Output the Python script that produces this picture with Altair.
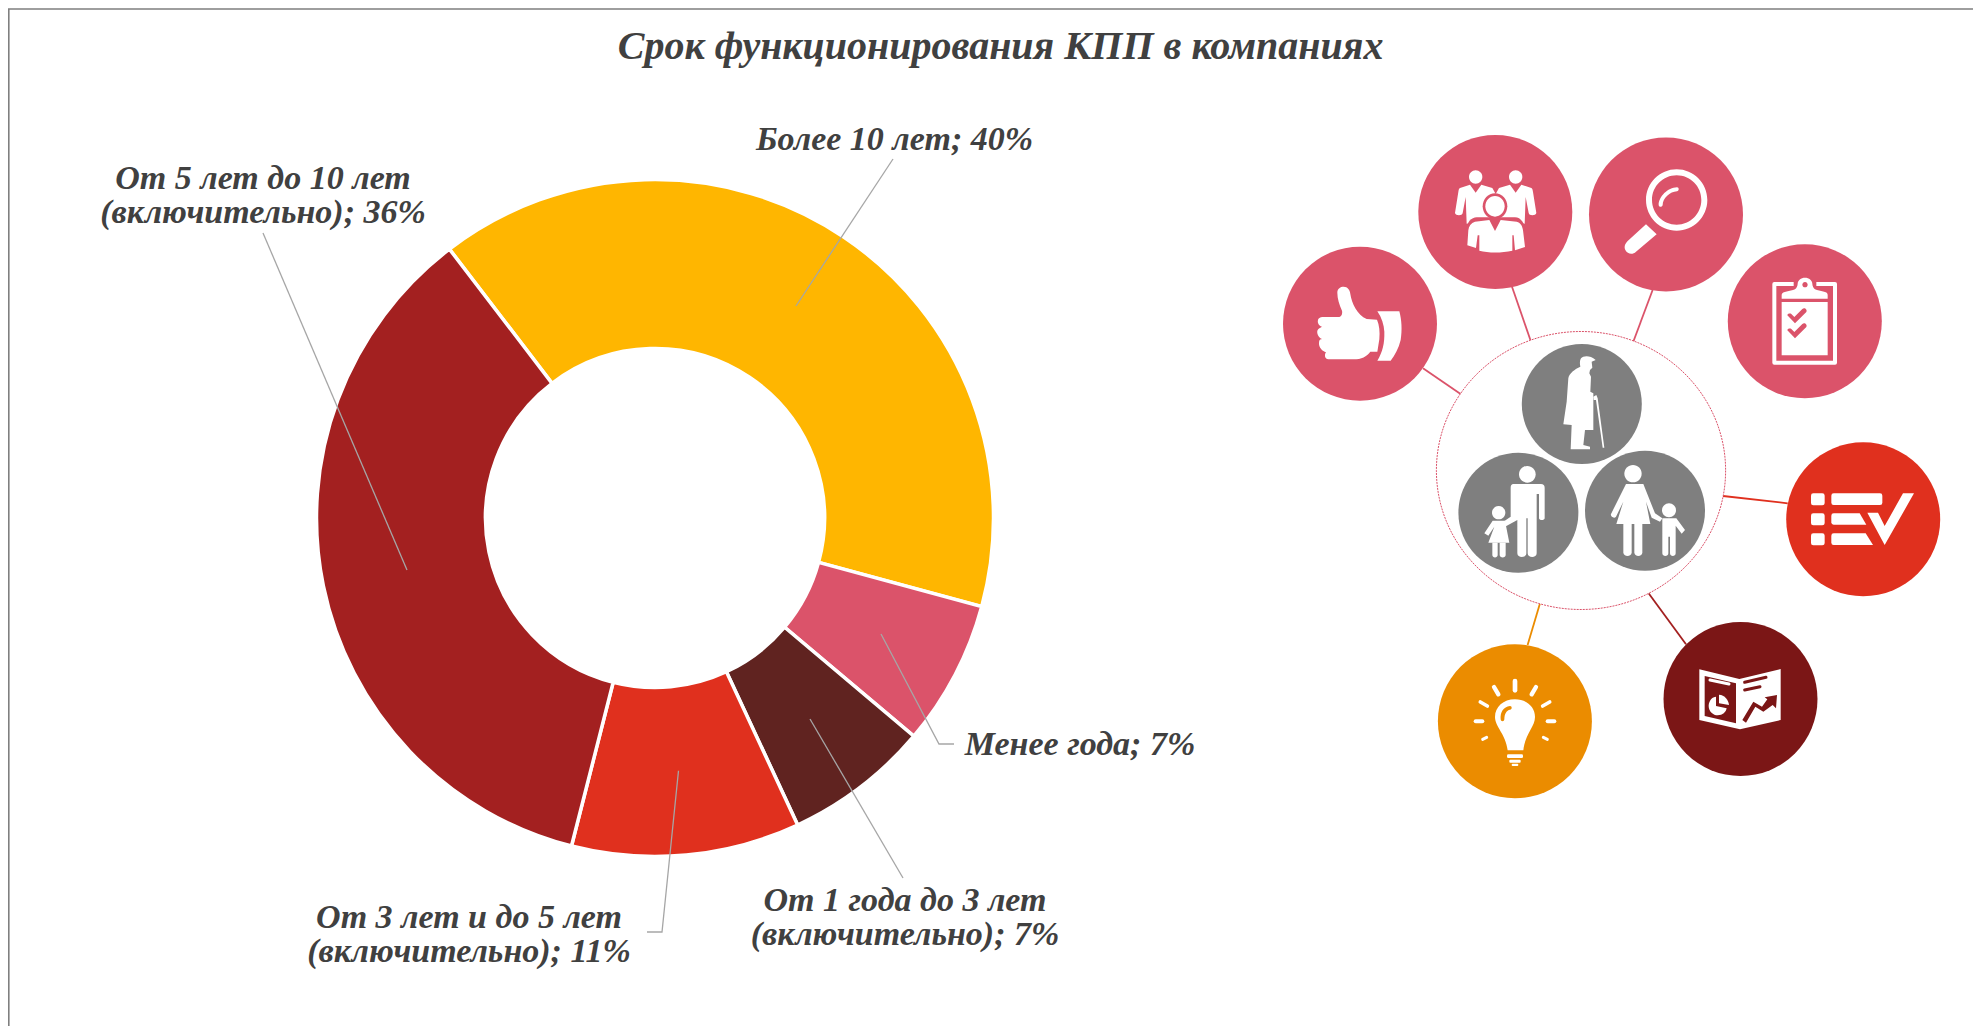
import math
import altair as alt
import pandas as pd

TITLE = "Срок функционирования КПП в компаниях"
CATEGORIES = ["Более 10 лет", "Менее года", "От 1 года до 3 лет", "От 3 лет и до 5 лет", "От 5 лет до 10 лет"]
VALUES = [40, 7, 7, 11, 36]
COLORS = ["#FFB600", "#DB536A", "#602320", "#E0301E", "#A32020"]
LABELS = [
    ("Более 10 лет; 40%", 894.5, 140),
    ("От 5 лет до 10 лет\n(включительно); 36%", 263, 178.5),
    ("Менее года; 7%", 1080, 745),
    ("От 1 года до 3 лет\n(включительно); 7%", 905, 900.5),
    ("От 3 лет и до 5 лет\n(включительно); 11%", 469, 918),
]
LEADERS = [
    [(893, 159), (796, 306)],
    [(263, 233), (407, 570)],
    [(881, 634), (939, 744), (954, 744)],
    [(903, 878), (810, 719)],
    [(678.5, 770.7), (662, 932), (647, 932)],
]
PINK, RED, DARK, ORANGE, GRAY = "#DB536A", "#E0301E", "#7B1616", "#EB8C00", "#7F7F7F"
WHITE = "#FFFFFF"
BIG = [(1360, 323.7, PINK), (1495.3, 212, PINK), (1666, 214.5, PINK), (1804.8, 321.3, PINK),
       (1863.2, 519.3, RED), (1740.5, 699, DARK), (1514.9, 721.3, ORANGE)]
SMALL = [(1581.8, 404, GRAY), (1518.4, 512.7, GRAY), (1645, 510.8, GRAY)]
CONNECTORS = [
    (1423, 368.3, 1460.6, 394, PINK), (1512, 286.7, 1530.4, 340, PINK), (1652.6, 290, 1633.3, 341.7, PINK),
    (1723, 496, 1787.7, 503.3, RED), (1648.6, 593.3, 1686, 644.3, "#A32020"), (1539.8, 604, 1527.6, 645, ORANGE),
]
HUB = (1581, 470.5, 144.6, 139)


def ell(cx, cy, rx, ry, rev=False):
    k = 0.5523
    a, b = rx * k, ry * k * (-1 if rev else 1)
    s = -1 if rev else 1
    return (f"M{cx+rx},{cy} C{cx+rx},{cy+b} {cx+a},{cy+s*ry} {cx},{cy+s*ry} "
            f"C{cx-a},{cy+s*ry} {cx-rx},{cy+b} {cx-rx},{cy} "
            f"C{cx-rx},{cy-b} {cx-a},{cy-s*ry} {cx},{cy-s*ry} "
            f"C{cx+a},{cy-s*ry} {cx+rx},{cy-b} {cx+rx},{cy} Z")


def cap(x1, y1, x2, y2, w):
    d = math.hypot(x2 - x1, y2 - y1)
    nx, ny = -(y2 - y1) / d * w / 2, (x2 - x1) / d * w / 2
    ex, ey = (x2 - x1) / d * w / 2, (y2 - y1) / d * w / 2
    return (f"M{x1+nx},{y1+ny} L{x2+nx},{y2+ny} Q{x2+nx+ex},{y2+ny+ey} {x2+ex},{y2+ey} "
            f"Q{x2-nx+ex},{y2-ny+ey} {x2-nx},{y2-ny} L{x1-nx},{y1-ny} "
            f"Q{x1-nx-ex},{y1-ny-ey} {x1-ex},{y1-ey} Q{x1+nx-ex},{y1+ny-ey} {x1+nx},{y1+ny} Z")


def rect(x1, y1, x2, y2):
    return f"M{x1},{y1} L{x2},{y1} L{x2},{y2} L{x1},{y2} Z"


def rrect(x1, y1, x2, y2, r):
    return (f"M{x1+r},{y1} L{x2-r},{y1} Q{x2},{y1} {x2},{y1+r} L{x2},{y2-r} Q{x2},{y2} {x2-r},{y2} "
            f"L{x1+r},{y2} Q{x1},{y2} {x1},{y2-r} L{x1},{y1+r} Q{x1},{y1} {x1+r},{y1} Z")


CHECK = "M127,{a} C127,{b} 135,{c} 139,{d} L148,{e} L172,{f} C178,{g} 188,{h} 184,{i} L150,{j} Z"


def check(o):
    return CHECK.format(a=160+o, b=155+o, c=153+o, d=156+o, e=165+o, f=141+o, g=135+o, h=142+o, i=150+o, j=184+o)


ICONS = [
    (1300, 260, [
        ("M112,98 C112,85 122,80 131,80 C143,80 150,90 151,102 C155,130 172,165 200,177 L231,179 C238,195 240,215 238,238 L232,275 L211,275 C200,290 185,298 160,298 L85,298 C75,298 72,285 78,277 C68,275 56,262 57,250 C57,240 60,238 66,237 C57,233 50,222 52,212 C54,204 62,203 66,200 C55,197 52,187 54,180 C56,172 64,171 72,171 L115,171 C125,171 128,160 126,152 C118,135 112,115 112,98 Z", WHITE),
        ("M232,154 L298,154 C305,180 307,210 302,240 C296,265 285,285 272,302 L232,302 C248,275 254,250 253,215 C252,195 245,172 232,154 Z", WHITE),
    ]),
    (1435, 152, [
        (ell(122, 75, 20, 20), WHITE), (ell(242, 75, 20, 20), WHITE),
        ("M75,108 L105,98 L122,122 L139,98 L172,108 L190,140 L190,200 L95,215 L92,135 L83,183 C82,192 62,192 60,183 L70,120 C71,113 72,110 75,108 Z", WHITE),
        ("M289,108 L259,98 L242,122 L225,98 L192,108 L174,140 L174,200 L269,215 L272,135 L281,183 C282,192 302,192 304,183 L294,120 C293,113 292,110 289,108 Z", WHITE),
        (ell(180, 163, 37, 39), PINK),
        ("M92,240 C94,210 110,196 125,196 L240,196 C258,196 270,215 272,240 L272,300 L92,300 Z", PINK),
        (ell(180, 163, 29, 31), WHITE),
        ("M120,209 L163,204 L180,237 L197,204 L245,209 C258,213 262,222 264,235 L270,285 L240,295 L236,250 L232,250 L232,296 C200,303 160,303 133,296 L133,250 L128,250 L123,288 L97,280 L100,235 C101,222 108,213 120,209 Z", WHITE),
    ]),
    (1606, 155, [
        (ell(212, 135, 92, 92) + " " + ell(212, 135, 74, 74, True), WHITE),
        ("M158,150 C158,125 185,98 213,97 C220,97 220,108 213,109 C192,110 170,130 170,150 C169,157 158,157 158,150 Z", WHITE),
        ("M120,208 L152,238 L90,290 C80,300 65,298 58,285 C53,275 58,265 65,258 Z", WHITE),
    ]),
    (1745, 262, [
        (rrect(82, 60, 276, 308, 6), WHITE),
        (rect(94, 72, 264, 296), PINK),
        (rect(110, 120, 248, 280), WHITE),
        ("M146,72 L214,72 L214,60 L146,60 Z", PINK),
        ("M110,110 L110,98 C112,88 135,88 150,82 C155,78 158,70 158,65 C158,55 168,47 180,47 C192,47 202,55 202,65 C202,70 205,78 210,82 C225,88 248,88 248,98 L248,110 Z", WHITE),
        (ell(180, 68, 8, 8), PINK),
        (check(0), PINK), (check(45), PINK),
    ]),
    (1803, 460, [
        (rrect(24, 100, 65, 136, 7), WHITE), (rrect(24, 160, 65, 196, 7), WHITE), (rrect(24, 220, 65, 256, 7), WHITE),
        (rrect(85, 100, 238, 135, 7), WHITE),
        ("M92,160 L170,160 L190,194 L92,194 Q85,194 85,187 L85,167 Q85,160 92,160 Z", WHITE),
        ("M92,220 L188,220 L210,255 L92,255 Q85,255 85,248 L85,227 Q85,220 92,220 Z", WHITE),
        ("M193,158 L225,158 L245,198 L300,100 L333,100 L245,255 Z", WHITE),
    ]),
    (1680, 640, [
        ("M58,88 L178,117 L302,87 L302,240 L180,268 L58,240 Z", WHITE),
        ("M74,108 L168,130 L168,250 L74,228 Z", DARK),
        (cap(90, 120, 147, 132, 9), WHITE),
        ("M108,170 C90,172 86,190 86,198 C86,215 100,226 113,226 C128,226 138,216 140,205 L108,198 Z", WHITE),
        ("M117,164 C134,165 146,180 147,195 L117,190 Z", WHITE),
        (cap(194, 127, 258, 112, 9), DARK),
        (cap(194, 150, 240, 140, 9), DARK),
        ("M187,240 L220,185 L246,200 L262,178 L254,172 L291,165 L288,205 L278,195 L250,215 L226,200 L198,248 Z", DARK),
    ]),
    (1455, 662, [
        ("M180,112 C215,112 240,135 240,165 C240,195 210,215 205,265 L158,265 C152,215 120,195 120,165 C120,135 145,112 180,112 Z", WHITE),
        ("M137,172 C135,150 145,135 165,132 C172,132 172,143 165,143 C155,145 148,155 148,172 C148,180 137,180 137,172 Z", ORANGE),
        (rrect(156, 277, 204, 288, 4), WHITE), (rrect(163, 293, 197, 302, 3), WHITE), (rrect(170, 305, 190, 312, 3), WHITE),
        (cap(180, 57, 180, 85, 14), WHITE), (cap(117, 75, 130, 97, 13), WHITE), (cap(243, 75, 230, 97, 13), WHITE),
        (cap(76, 120, 97, 132, 11), WHITE), (cap(284, 120, 263, 132, 11), WHITE),
        (cap(62, 178, 82, 178, 12), WHITE), (cap(278, 178, 298, 178, 12), WHITE),
        (cap(83, 232, 95, 226, 9), WHITE), (cap(277, 232, 265, 226, 9), WHITE),
    ]),
    (1455, 345, [
        ("M378,40 C385,32 405,30 422,45 L410,50 L412,68 L405,75 L403,85 L408,95 L406,140 L415,145 L415,255 L390,255 L385,300 L405,305 L405,313 L347,313 L350,240 L325,238 L335,170 L340,100 C342,85 360,72 376,65 C374,55 374,47 378,40 Z", WHITE),
        ("M415,155 L424,150 L428,160 L448,308 L443,308 L423,165 L416,165 Z", WHITE),
        (ell(217, 388, 25, 25), WHITE),
        ("M175,417 L258,417 C265,417 269,421 269,428 L269,520 C269,527 252,527 252,520 L252,447 L245,447 L245,625 C245,640 218,640 218,625 L218,520 L214,520 L214,625 C214,640 187,640 187,625 L187,525 L150,545 L145,530 L167,515 L167,428 C167,421 170,417 175,417 Z", WHITE),
        (ell(131, 503, 20, 20), WHITE),
        ("M113,527 L150,527 L163,593 L100,593 L118,545 L100,572 L88,565 Z", WHITE),
        ("M112,593 L128,593 L128,630 C128,640 112,640 112,630 Z", WHITE),
        ("M134,593 L152,593 L152,630 C152,640 134,640 134,630 Z", WHITE),
        (ell(534, 386, 26, 26), WHITE),
        ("M513,417 L565,417 L600,505 L622,520 L615,530 L590,518 L573,470 L586,537 L484,537 L505,470 L483,515 C478,522 465,515 468,507 Z", WHITE),
        ("M505,537 L530,537 L530,622 C530,637 505,637 505,622 Z", WHITE),
        ("M538,537 L562,537 L562,622 C562,637 538,637 538,622 Z", WHITE),
        (ell(642, 496, 21, 21), WHITE),
        ("M622,520 L664,520 L690,555 L680,566 L662,542 L662,625 C662,636 645,636 645,625 L645,575 L640,575 L640,625 C640,636 622,636 622,625 Z", WHITE),
    ]),
]

FONT = "Liberation Serif"
TEXT = "#404040"
W, H = 1965, 1018
PX = alt.X("x:Q", scale=alt.Scale(domain=[8, 1973], nice=False, zero=False), axis=None)
PY = alt.Y("y:Q", scale=alt.Scale(domain=[1026, 8], nice=False, zero=False), axis=None)

frame = pd.DataFrame({"x": [8.8, 8.8, 1973], "y": [1026, 9, 9], "i": [0, 1, 2]})
frame_l = alt.Chart(frame).mark_line(color="#7F7F7F", strokeWidth=1.6).encode(x=PX, y=PY, order="i:Q")

donut_df = pd.DataFrame({"cat": CATEGORIES, "value": VALUES, "ord": range(len(VALUES))})
start = math.radians(322.6)
donut = alt.Chart(donut_df).mark_arc(innerRadius=169.5, outerRadius=338.5, stroke="white", strokeWidth=3.5).encode(
    theta=alt.Theta("value:Q", stack=True, scale=alt.Scale(domain=[0, sum(VALUES)], range=[start, start + 2 * math.pi])),
    color=alt.Color("cat:N", scale=alt.Scale(domain=CATEGORIES, range=COLORS), legend=None),
    order=alt.Order("ord:Q"),
    x=alt.value(655 - 8),
    y=alt.value(518 - 8),
)

leader_rows = []
for n, pts in enumerate(LEADERS):
    for i, (x, y) in enumerate(pts):
        leader_rows.append({"id": n, "i": i, "x": x, "y": y})
leaders = alt.Chart(pd.DataFrame(leader_rows)).mark_line(color="#A6A6A6", strokeWidth=1.3).encode(
    x=PX, y=PY, detail="id:N", order="i:Q")

labels = alt.Chart(pd.DataFrame(LABELS, columns=["t", "x", "y"])).mark_text(
    font=FONT, fontSize=34, fontStyle="italic", fontWeight="bold", color=TEXT, baseline="middle", align="center",
    lineBreak="\n", lineHeight=34
).encode(x=PX, y=PY, text="t:N")

title = alt.Chart(pd.DataFrame({"t": [TITLE], "x": [1000.6], "y": [47]})).mark_text(
    font=FONT, fontSize=40, fontStyle="italic", fontWeight="bold", color=TEXT, baseline="middle", align="center"
).encode(x=PX, y=PY, text="t:N")

conn_df = pd.DataFrame(CONNECTORS, columns=["x", "y", "x2", "y2", "c"])
conns = alt.Chart(conn_df).mark_rule(strokeWidth=1.8).encode(
    x=PX, y=PY, x2="x2:Q", y2="y2:Q", color=alt.Color("c:N", scale=None))

circ = lambda r: (2 * r) ** 2
big = alt.Chart(pd.DataFrame(BIG, columns=["x", "y", "c"])).mark_circle(opacity=1, size=circ(77)).encode(
    x=PX, y=PY, color=alt.Color("c:N", scale=None))
small = alt.Chart(pd.DataFrame(SMALL, columns=["x", "y", "c"])).mark_circle(opacity=1, size=circ(60)).encode(
    x=PX, y=PY, color=alt.Color("c:N", scale=None))

hub = alt.Chart(pd.DataFrame({"x": [HUB[0]], "y": [HUB[1]]})).mark_point(
    shape=ell(0, 0, HUB[2], HUB[3]), size=4, filled=False, stroke=PINK, strokeWidth=1, strokeDash=[2, 1], fill="white", fillOpacity=1, opacity=1
).encode(x=PX, y=PY)

icon_rows = []
for x0, y0, parts in ICONS:
    for path, col in parts:
        icon_rows.append({"x": x0, "y": y0, "p": path, "c": col, "n": len(icon_rows)})
icons = alt.Chart(pd.DataFrame(icon_rows)).mark_point(filled=True, opacity=1, strokeWidth=0, size=4 / 9).encode(
    x=PX, y=PY, shape=alt.Shape("p:N", scale=None), color=alt.Color("c:N", scale=None))

chart = alt.layer(frame_l, donut, leaders, title, labels, conns, hub, small, big, icons).properties(
    width=W, height=H,
    autosize=alt.AutoSizeParams(type="none"),
    padding=0,
).resolve_scale(color="independent").configure_view(stroke=None)

chart.save("out.html", embed_options={"renderer": "svg", "actions": False})
